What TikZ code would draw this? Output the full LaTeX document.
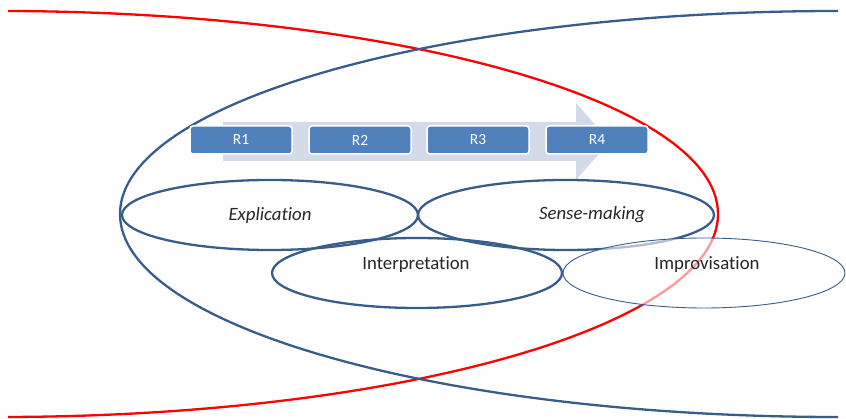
\documentclass[tikz,border=0pt]{standalone}
\usepackage{fontspec}
\setmainfont{Carlito}[Ligatures={NoCommon,NoContextual}]
\usetikzlibrary{shapes.geometric}
\definecolor{outline}{HTML}{385D8A}
\definecolor{boxfill}{HTML}{4F81BD}
\definecolor{arrowfill}{HTML}{D3DBE9}
\tikzset{
  bigring/.style={line width=2.3pt},
  stage/.style={ellipse, draw=outline, line width=2.3pt, inner sep=0pt,
    minimum width=296pt, minimum height=70pt},
  stagetext/.style={font=\fontsize{18.8}{21}\selectfont, text=black!85},
  stageital/.style={font=\fontsize{18.8}{21}\selectfont\itshape, text=black!85},
  rbox/.style={rectangle, rounded corners=3pt, fill=boxfill, draw=white,
    line width=1.5pt, minimum width=102pt, minimum height=28pt, inner sep=0pt,
    text=white, font=\fontsize{15.5}{17}\selectfont},
}
\begin{document}
\begin{tikzpicture}[x=1pt,y=-1pt]
\useasboundingbox (0,0) rectangle (846,419);

% two large overlapping rings, cut at the slide edges
\begin{scope}
  \clip (8,0) rectangle (838,419);
  \draw[bigring, red] (0,214) ellipse [x radius=718pt, y radius=203pt];
  \draw[bigring, outline] (838,214) ellipse [x radius=718pt, y radius=203pt];
\end{scope}

% process arrow behind the four steps
\fill[arrowfill] (223,122) -- (576,122) -- (576,103) -- (610,141.5)
  -- (576,180) -- (576,161) -- (223,161) -- cycle;

\node[rbox] (r1) at (241,140) {R1};
\node[rbox] (r2) at (360,140) {R2};
\node[rbox] (r3) at (478,140) {R3};
\node[rbox] (r4) at (597,140) {R4};

% the four activity ellipses
\node[stage] (expl) at (270,215) {};
\node[stage] (sense) at (566,215) {};
\node[stage, minimum width=290pt] (interp) at (417,273) {};
\node[stage, minimum width=282pt, line width=0.9pt, fill=white, fill opacity=0.6]
  (impro) at (704,273) {};

\node[stageital] (texpl) at (270,215) {Explication};
\node[stageital] (tsense) at (592,215) {Sense-making};
\node[stagetext] (tinterp) at (416,265) {Interpretation};
\node[stagetext] (timpro) at (707,265) {Improvisation};
\end{tikzpicture}
\end{document}
